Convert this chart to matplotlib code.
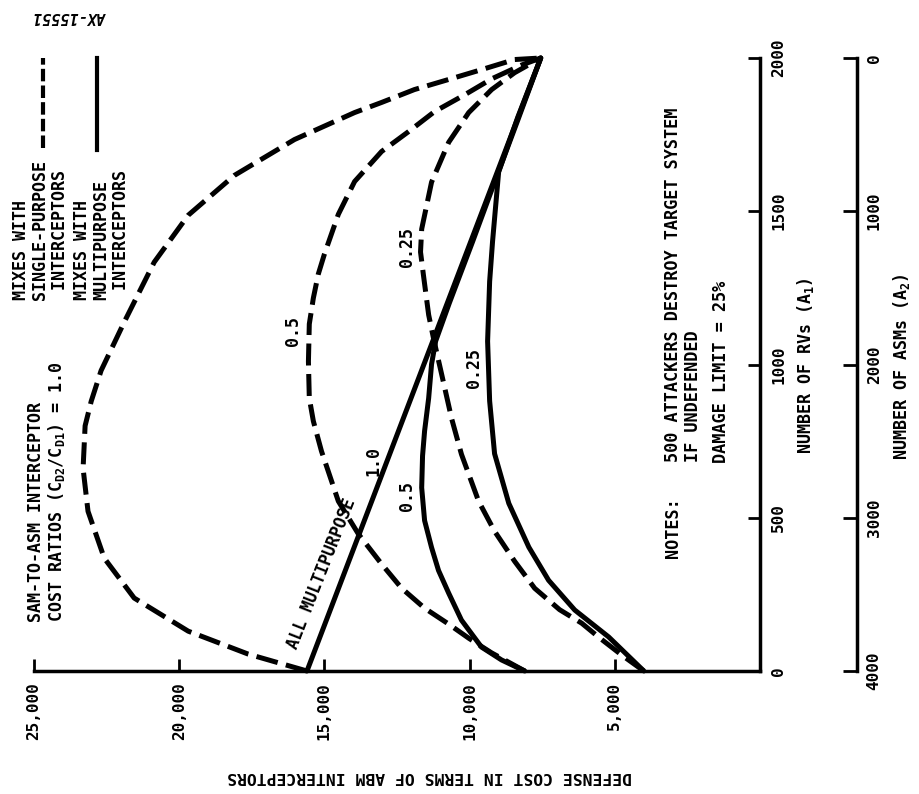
"""
Defensa ABM: costo de la defensa vs. número de RVs / ASMs.
Gráfico girado 90° (como en el original escaneado).
"""
import matplotlib
matplotlib.use("Agg")
import matplotlib.pyplot as plt
from matplotlib.lines import Line2D

plt.rcParams["font.family"] = "DejaVu Sans Mono"
plt.rcParams["font.weight"] = "bold"
plt.rcParams["mathtext.default"] = "regular"

W, H = 919, 794

# ── Datos (costo en interceptores ABM, número de RVs) ───────────────────────
# mezclas con interceptores de propósito único (discontinuas)
single_10_cost = [15600, 17620, 19690, 21550, 22580, 23140, 23310, 23240, 23030,
                  22690, 21890, 20860, 19690, 18100, 16030, 13960, 13030, 11900,
                  10720, 9590, 8450, 7550]
single_10_rv = [0, 55, 130, 238, 368, 521, 661, 800, 880, 980, 1139, 1334, 1487,
                1617, 1734, 1822, 1855, 1897, 1930, 1962, 1995, 2000]

single_05_cost = [8100, 9240, 10030, 10720, 11550, 12340, 13030, 13830, 14520,
                  15100, 15380, 15520, 15550, 15520, 15380, 15210, 15000, 14520,
                  13960, 13030, 12100, 11210, 10170, 9240, 8210, 7550]
single_05_rv = [0, 59, 107, 153, 205, 270, 349, 447, 554, 717, 815, 890, 1010,
                1132, 1217, 1295, 1360, 1490, 1597, 1695, 1760, 1825, 1880, 1932,
                1977, 2000]

single_025_cost = [4000, 4760, 5550, 6140, 6900, 7760, 8450, 9140, 9690, 10280,
                   10620, 10960, 11240, 11410, 11590, 11690, 11650, 11310, 10720,
                   10030, 9240, 8450, 7550]
single_025_rv = [0, 52, 110, 156, 200, 270, 358, 456, 554, 707, 824, 967, 1084,
                 1162, 1292, 1367, 1442, 1595, 1725, 1822, 1897, 1952, 2000]

# mezclas con interceptores multipropósito (continuas)
multi_10_cost = [15600, 7550]
multi_10_rv = [0, 2000]

multi_05_cost = [8100, 8900, 9590, 10280, 10720, 11070, 11310, 11550, 11650, 11620,
                 11550, 11410, 11310, 11170, 10700, 9900, 9120, 8330, 7550]
multi_05_rv = [0, 36, 78, 166, 254, 328, 403, 491, 598, 702, 783, 890, 1001, 1076,
               1200, 1400, 1600, 1800, 2000]

multi_025_cost = [4000, 5210, 6380, 7280, 7960, 8650, 9140, 9310, 9380, 9310, 9210,
                  9000, 8340, 7550]
multi_025_rv = [0, 111, 199, 296, 404, 547, 709, 881, 1076, 1271, 1401, 1628, 1807,
                2000]

cost_ticks = [25000, 20000, 15000, 10000, 5000]
cost_labels = ["25,000", "20,000", "15,000", "10,000", "5,000"]
rv_ticks = [0, 500, 1000, 1500, 2000]
asm_ticks = [0, 1000, 2000, 3000, 4000]

# etiquetas de las curvas: (texto, costo, RVs)
curve_labels = [("0.5", 16070, 1108), ("0.25", 12140, 1382), ("0.25", 9860, 990),
                ("0.5", 12140, 572), ("1.0", 13310, 686)]


def fxy(px, py):
    """Pixeles de la imagen -> fracción de la figura."""
    return px / W, 1 - py / H


fig = plt.figure(figsize=(W / 100, H / 100), dpi=100)
ax = fig.add_axes([34 / W, 1 - 671 / H, 726 / W, 613 / H])
ax2 = ax.twinx()   # eje de ASMs (antes de fijar los ticks de ax)

ax.set_xlim(25000, 0)
ax.set_ylim(0, 2000)

LW = 3.6
DASH = (0, (4.4, 1.7))
for c, r in [(single_10_cost, single_10_rv), (single_05_cost, single_05_rv),
             (single_025_cost, single_025_rv)]:
    ax.plot(c, r, color="black", lw=LW, linestyle=DASH, clip_on=False)
for c, r in [(multi_10_cost, multi_10_rv), (multi_05_cost, multi_05_rv),
             (multi_025_cost, multi_025_rv)]:
    ax.plot(c, r, color="black", lw=LW, solid_capstyle="round",
            solid_joinstyle="round", clip_on=False)

for txt, c, r in curve_labels:
    ax.text(c, r, txt, rotation=90, ha="center", va="center", fontsize=12)
ax.text(15080, 316, "ALL MULTIPURPOSE", rotation=68.5, rotation_mode="anchor",
        ha="center", va="center", fontsize=12)

# ejes
for side in ["top", "left"]:
    ax.spines[side].set_visible(False)
for side in ["bottom", "right"]:
    ax.spines[side].set_linewidth(2.5)
ax.set_xticks(cost_ticks)
ax.set_xticklabels(cost_labels, rotation=90)
ax.yaxis.tick_right()
ax.set_yticks(rv_ticks)
ax.set_yticklabels([str(v) for v in rv_ticks], rotation=90, va="center")
ax.tick_params(direction="in", length=9, width=2, labelsize=11.5, pad=8)
ax.tick_params(axis="y", left=False, labelleft=False, right=True, labelright=True)

ax2.set_ylim(4000, 0)
for side in ["top", "left", "bottom"]:
    ax2.spines[side].set_visible(False)
ax2.spines["right"].set_position(("axes", (857 - 34) / 726))
ax2.spines["right"].set_linewidth(2.5)
ax2.set_yticks(asm_ticks)
ax2.set_yticklabels([str(v) for v in asm_ticks], rotation=90, va="center")
ax2.tick_params(direction="in", length=10, width=2, labelsize=11.5, pad=7)

# títulos de ejes
fig.text(*fxy(805, 366), "NUMBER OF RVs (A$_1$)", rotation=90,
         ha="center", va="center", fontsize=12)
fig.text(*fxy(901, 367), "NUMBER OF ASMs (A$_2$)", rotation=90,
         ha="center", va="center", fontsize=12)
fig.text(*fxy(430, 776), "DEFENSE COST IN TERMS OF ABM INTERCEPTORS",
         rotation=180, ha="center", va="center", fontsize=11.8)
fig.text(*fxy(70, 16), "AX-15551", rotation=180, ha="center", va="center",
         fontsize=11, style="italic")

# leyenda
fig.text(*fxy(12, 300), "MIXES WITH\nSINGLE-PURPOSE\n INTERCEPTORS", rotation=90,
         ha="left", va="bottom", multialignment="left", linespacing=1.1,
         fontsize=12)
fig.text(*fxy(73, 300), "MIXES WITH\nMULTIPURPOSE\n INTERCEPTORS", rotation=90,
         ha="left", va="bottom", multialignment="left", linespacing=1.1,
         fontsize=12)
x0, y0 = fxy(43, 148)
x1, y1 = fxy(43, 58)
fig.add_artist(Line2D([x0, x1], [y0, y1], color="black", lw=3,
                      linestyle=(0, (3, 1))))
x0, y0 = fxy(97, 150)
x1, y1 = fxy(97, 58)
fig.add_artist(Line2D([x0, x1], [y0, y1], color="black", lw=3))

fig.text(*fxy(27, 622), "SAM-TO-ASM INTERCEPTOR\nCOST RATIOS (C$_{D2}$/C$_{D1}$) = 1.0",
         rotation=90, ha="left", va="bottom", multialignment="left",
         linespacing=1.05, fontsize=12)

# notas
fig.text(*fxy(664, 558), "NOTES:", rotation=90, ha="left", va="bottom", fontsize=12.2)
fig.text(*fxy(664, 462), "500 ATTACKERS DESTROY TARGET SYSTEM\nIF UNDEFENDED",
         rotation=90, ha="left", va="bottom", multialignment="left",
         linespacing=1.15, fontsize=12.2)
fig.text(*fxy(712, 463), "DAMAGE LIMIT = 25%", rotation=90, ha="left",
         va="bottom", fontsize=12.2)

fig.savefig("out.png", dpi=100)
